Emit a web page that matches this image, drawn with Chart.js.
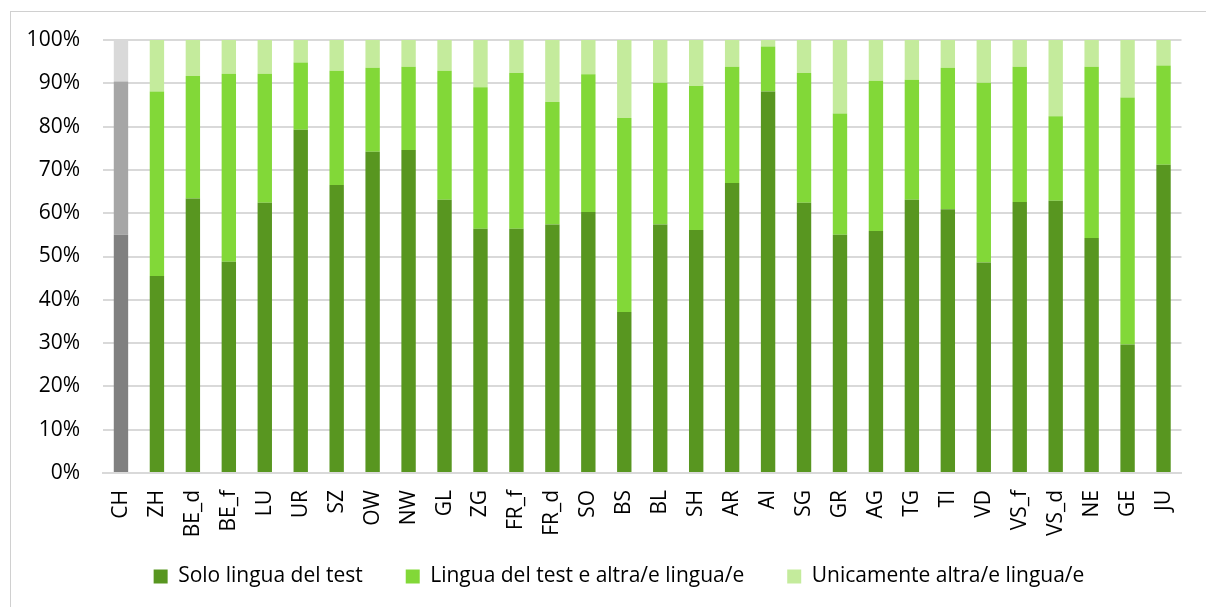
<!DOCTYPE html>
<html>
<head>
<meta charset="utf-8">
<script src="https://cdn.jsdelivr.net/npm/chart.js@4.4.0/dist/chart.umd.min.js"></script>
<style>
  html, body { margin: 0; padding: 0; background: #fff; overflow: hidden; }
  #frame { position: absolute; left: 10px; top: 11px; width: 1300px; height: 700px;
           border-left: 1px solid #d0d0d0; border-top: 1px solid #d0d0d0; }
  #wrap { position: absolute; left: 0; top: 0; width: 1206px; height: 607px; }
</style>
</head>
<body>
<div id="frame"></div>
<div id="wrap"><canvas id="chart"></canvas></div>
<script>
// cantons (CH = Swiss total)
const cantons = ['CH', 'ZH', 'BE_d', 'BE_f', 'LU', 'UR', 'SZ', 'OW', 'NW', 'GL', 'ZG', 'FR_f', 'FR_d', 'SO', 'BS',
                 'BL', 'SH', 'AR', 'AI', 'SG', 'GR', 'AG', 'TG', 'TI', 'VD', 'VS_f', 'VS_d', 'NE', 'GE', 'JU'];

// shares in %
const soloTest = [55.0, 45.5, 63.4, 48.8, 62.4, 79.3, 66.5, 74.2, 74.6, 63.1, 56.4, 56.4, 57.4, 60.3, 37.2,
                  57.4, 56.1, 67.0, 88.1, 62.4, 55.0, 55.9, 63.1, 60.9, 48.6, 62.6, 62.9, 54.3, 29.7, 71.2];
const testEAltre = [35.4, 42.6, 28.3, 43.4, 29.8, 15.5, 26.4, 19.4, 19.2, 29.8, 32.7, 36.0, 28.3, 31.8, 44.8,
                    32.7, 33.3, 26.8, 10.4, 30.0, 28.0, 34.7, 27.7, 32.7, 41.5, 31.2, 19.5, 39.5, 57.0, 22.9];
const soloAltre = [9.6, 11.9, 8.3, 7.8, 7.8, 5.2, 7.1, 6.4, 6.2, 7.1, 10.9, 7.6, 14.3, 7.9, 18.0,
                   9.9, 10.6, 6.2, 1.5, 7.6, 17.0, 9.4, 9.2, 6.4, 9.9, 6.2, 17.6, 6.2, 13.3, 5.9];

const yTicks = [0, 10, 20, 30, 40, 50, 60, 70, 80, 90, 100];

const seriesNames = ['Solo lingua del test', 'Lingua del test e altra/e lingua/e', 'Unicamente altra/e lingua/e'];
const greens = ['#589620', '#82d838', '#c4eb9c'];
const greys = ['#808080', '#a6a6a6', '#d9d9d9'];

function colorsFor(k) {
    return cantons.map((c, i) => i === 0 ? greys[k] : greens[k]);
}

const font = { family: "'Open Sans', sans-serif", size: 21 };

// legend sits a bit right of centre and overlaps the tall axis box
const legendShift = {
    id: 'legendShift',
    afterLayout(chart) {
        const lg = chart.legend;
        lg.left += 24;
        lg.right += 24;
        lg.top = 523;
        lg.bottom = 600;
    },
};

new Chart(document.getElementById('chart'), {
    type: 'bar',
    data: {
        labels: cantons,
        datasets: [soloTest, testEAltre, soloAltre].map((d, k) => ({
            label: seriesNames[k],
            data: d,
            backgroundColor: colorsFor(k),
            borderWidth: 0,
            barPercentage: 0.4,
            categoryPercentage: 1.0,
        })),
    },
    plugins: [legendShift],
    options: {
        responsive: true,
        maintainAspectRatio: false,
        animation: false,
        layout: { padding: { top: 40, right: 16, bottom: 9, left: 0 } },
        plugins: {
            tooltip: { enabled: false },
            legend: {
                position: 'bottom',
                maxHeight: 40,
                labels: {
                    font: font,
                    color: '#000',
                    boxWidth: 14,
                    boxHeight: 14,
                    padding: 43,
                    generateLabels: (chart) => chart.data.datasets.map((ds, k) => ({
                        text: ds.label,
                        fillStyle: greens[k],
                        strokeStyle: greens[k],
                        lineWidth: 0,
                        hidden: false,
                        datasetIndex: k,
                        fontColor: '#000',
                    })),
                },
            },
        },
        scales: {
            x: {
                stacked: true,
                grid: { display: false, drawTicks: false },
                border: { display: true, color: '#d9d9d9', width: 2 },
                ticks: { font: font, color: '#000', minRotation: 90, maxRotation: 90, padding: 17, autoSkip: false },
                afterFit: (s) => { s.height = 85; },
            },
            y: {
                stacked: true,
                min: 0,
                max: 100,
                afterBuildTicks: (s) => { s.ticks = yTicks.map(v => ({ value: v })); },
                grid: { color: '#d9d9d9', lineWidth: 2, drawTicks: false },
                border: { display: false },
                ticks: { font: font, color: '#000', padding: 23, callback: (v) => v + '%' },
                afterFit: (s) => { s.width = 103; },
            },
        },
    },
});
</script>
</body>
</html>
